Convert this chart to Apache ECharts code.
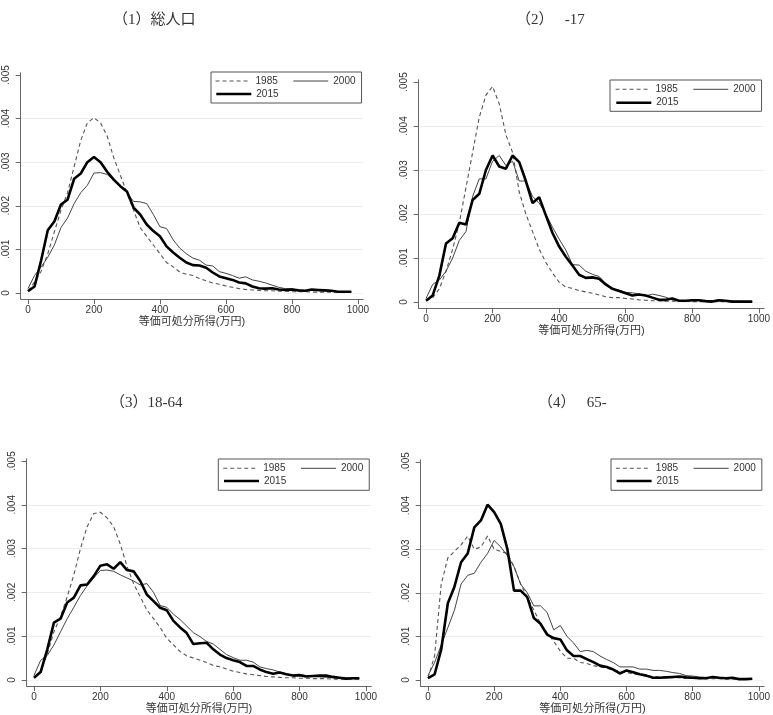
<!DOCTYPE html>
<html>
<head>
<meta charset="utf-8">
<script src="https://cdn.jsdelivr.net/npm/echarts@6/dist/echarts.min.js"></script>
<style>
  html, body { margin: 0; padding: 0; background: #fff; }
  #chart { width: 773px; height: 715px; }
</style>
</head>
<body>
<div id="chart"></div>
<script>
// income bins (万円)
const incomeGrid = [
  0, 20, 40, 60, 80, 100, 120, 140, 160, 180,
  200, 220, 240, 260, 280, 300, 320, 340, 360, 380,
  400, 420, 440, 460, 480, 500, 520, 540, 560, 580,
  600, 620, 640, 660, 680, 700, 720, 740, 760, 780,
  800, 820, 840, 860, 880, 900, 920, 940, 960, 980
];
const xTicks = [0, 200, 400, 600, 800, 1000];
const yTicks = [0, 0.001, 0.002, 0.003, 0.004, 0.005];
const years = ["1985", "2000", "2015"];
const panelTitles = ["（1）総人口", "（2）　 -17", "（3）18-64", "（4）　 65-"];
const axisName = "等価可処分所得(万円)";

// (1) total
const total1985 = [
  0.00005, 0.00025, 0.0005, 0.0009, 0.0014, 0.0019, 0.0023, 0.0029, 0.0035, 0.0039,
  0.00402, 0.0039, 0.0036, 0.0031, 0.0027, 0.0023, 0.0019, 0.0015, 0.0013, 0.0011,
  0.0009, 0.0007, 0.0006, 0.00048, 0.00043, 0.0004, 0.00033, 0.00028, 0.00023, 0.0002,
  0.00016, 0.00013, 0.0001, 0.00008, 0.00007, 0.00006, 0.00005, 0.00005, 0.00004, 0.00004,
  0.00003, 0.00003, 0.00003, 0.00002, 0.00002, 0.00002, 0.00002, 0.00002, 0.00002, 0.00002
];
const total2000 = [
  0.0001, 0.0004, 0.0006, 0.00082, 0.0011, 0.0015, 0.00172, 0.00205, 0.0023, 0.00247,
  0.00275, 0.00276, 0.00272, 0.00258, 0.00243, 0.0023, 0.0021, 0.00209, 0.00205, 0.0018,
  0.00152, 0.00148, 0.00122, 0.00103, 0.0009, 0.0008, 0.00075, 0.00064, 0.00062, 0.00049,
  0.00045, 0.0004, 0.00034, 0.00037, 0.0003, 0.00027, 0.00023, 0.00018, 0.00013, 0.0001,
  0.0001, 0.00006, 0.00005, 0.00006, 0.00005, 0.00005, 0.00004, 0.00003, 0.00003, 0.00003
];
const total2015 = [
  0.00004, 0.00015, 0.00075, 0.00144, 0.00164, 0.00203, 0.00214, 0.00262, 0.00274, 0.003,
  0.00312, 0.003, 0.00278, 0.0026, 0.00245, 0.00233, 0.00196, 0.0018, 0.00157, 0.00142,
  0.0013, 0.00107, 0.00093, 0.00081, 0.0007, 0.00064, 0.00063, 0.00058, 0.00047, 0.00038,
  0.00034, 0.0003, 0.00024, 0.00022, 0.00015, 0.00011, 0.0001, 0.00011, 0.00008, 0.00007,
  0.00008, 0.00006, 0.00005, 0.00008, 0.00007, 0.00006, 0.00005, 0.00003, 0.00003, 0.00003
];

// (2) -17
const child1985 = [
  0.00004, 0.0001, 0.0003, 0.0007, 0.0012, 0.0018, 0.0026, 0.0034, 0.0042, 0.0047,
  0.0049, 0.0045, 0.0038, 0.0034, 0.0025, 0.002, 0.0016, 0.0012, 0.0009, 0.00066,
  0.00045, 0.00034, 0.00031, 0.00026, 0.00023, 0.0002, 0.00016, 0.00012, 0.0001, 0.0001,
  0.00008, 0.00007, 0.00005, 0.00004, 0.00003, 0.00003, 0.00002, 0.00002, 0.00002, 0.00002,
  0.00001, 0.00001, 0.00001, 0.00001, 0.00001, 0.00001, 0.00001, 0.00001, 0.00001, 0.00001
];
const child2000 = [
  0.00008, 0.0004, 0.0005, 0.0007, 0.001, 0.0014, 0.0016, 0.0024, 0.0028, 0.0028,
  0.0032, 0.00333, 0.0031, 0.0032, 0.00275, 0.00275, 0.0024, 0.00225, 0.002, 0.0017,
  0.00143, 0.00118, 0.00085, 0.00084, 0.0007, 0.00063, 0.00058, 0.00042, 0.0003, 0.00027,
  0.00022, 0.00021, 0.00018, 0.00014, 0.00018, 0.00015, 0.00011, 0.00005, 0.00003, 0.00003,
  0.00003, 0.00004, 0.00002, 0.00003, 0.00005, 0.00003, 0.00002, 0.00002, 0.00001, 0.00001
];
const child2015 = [
  0.00003, 0.00015, 0.0006, 0.00133, 0.00145, 0.0018, 0.00176, 0.00232, 0.00246, 0.003,
  0.00333, 0.00308, 0.00303, 0.00333, 0.00318, 0.00275, 0.00225, 0.00238, 0.00197, 0.00157,
  0.00126, 0.00103, 0.00083, 0.00062, 0.00055, 0.00056, 0.00053, 0.0004, 0.0003, 0.00025,
  0.0002, 0.00015, 0.00017, 0.00015, 0.0001, 0.00005, 0.00005, 0.00008, 0.00003, 0.00003,
  0.00004, 0.00004, 0.00002, 0.00001, 0.00004, 0.00003, 0.00001, 0.00001, 0.00001, 0.00001
];

// (3) 18-64
const work1985 = [
  0.00005, 0.0002, 0.0006, 0.0011, 0.00145, 0.0019, 0.0024, 0.003, 0.0035, 0.0038,
  0.00383, 0.0037, 0.0035, 0.0031, 0.0026, 0.0022, 0.0019, 0.0016, 0.0014, 0.0012,
  0.00095, 0.0008, 0.00065, 0.00055, 0.0005, 0.00045, 0.0004, 0.00033, 0.0003, 0.00025,
  0.0002, 0.00017, 0.00014, 0.00012, 0.0001, 0.00008, 0.00007, 0.00006, 0.00005, 0.00005,
  0.00004, 0.00004, 0.00003, 0.00003, 0.00003, 0.00002, 0.00002, 0.00002, 0.00002, 0.00002
];
const work2000 = [
  0.0001, 0.00045, 0.00056, 0.0008, 0.0011, 0.0014, 0.00166, 0.00193, 0.00215, 0.00233,
  0.0025, 0.00251, 0.00248, 0.0024, 0.00233, 0.00226, 0.00217, 0.0022, 0.002, 0.0017,
  0.00166, 0.0015, 0.00138, 0.00123, 0.00108, 0.00099, 0.00088, 0.00082, 0.0007, 0.00058,
  0.00051, 0.00045, 0.00045, 0.00041, 0.0003, 0.00026, 0.00023, 0.00018, 0.00014, 0.00011,
  0.00013, 0.0001, 0.00008, 0.00007, 0.00006, 0.00005, 0.00004, 0.00004, 0.00003, 0.00003
];
const work2015 = [
  0.00005, 0.00018, 0.0007, 0.00131, 0.0014, 0.00177, 0.00188, 0.00216, 0.00218, 0.00237,
  0.00261, 0.00264, 0.00254, 0.00269, 0.00251, 0.00248, 0.00226, 0.00195, 0.0018, 0.00165,
  0.00159, 0.00135, 0.0012, 0.00107, 0.00082, 0.00084, 0.00085, 0.0007, 0.00058, 0.0005,
  0.00045, 0.00041, 0.00032, 0.00032, 0.00024, 0.00018, 0.00014, 0.00017, 0.00013, 0.0001,
  0.00011, 0.00008, 0.00009, 0.0001, 0.0001, 0.00007, 0.00005, 0.00003, 0.00004, 0.00004
];

// (4) 65-
const elder1985 = [
  0.00005, 0.00055, 0.0022, 0.0028, 0.00295, 0.0031, 0.0033, 0.003, 0.00305, 0.0033,
  0.003, 0.00295, 0.0029, 0.0026, 0.0022, 0.0019, 0.0016, 0.0013, 0.00108, 0.00089,
  0.00066, 0.0005, 0.0005, 0.0004, 0.00038, 0.00033, 0.0003, 0.00027, 0.00023, 0.0002,
  0.00017, 0.00014, 0.00012, 0.0001, 0.00008, 0.00007, 0.00006, 0.00005, 0.00005, 0.00004,
  0.00004, 0.00003, 0.00003, 0.00003, 0.00003, 0.00002, 0.00002, 0.00002, 0.00002, 0.00002
];
const elder2000 = [
  0.0001, 0.0004, 0.0008, 0.0012, 0.0016, 0.0022, 0.0024, 0.00245, 0.0027, 0.0029,
  0.0032, 0.00305, 0.00285, 0.0026, 0.0022, 0.002, 0.0017, 0.0017, 0.00155, 0.00115,
  0.00125, 0.001, 0.00085, 0.00065, 0.00068, 0.00065, 0.00055, 0.00047, 0.0004, 0.0003,
  0.0003, 0.0003, 0.00025, 0.00025, 0.00022, 0.00022, 0.0002, 0.00017, 0.00015, 0.0001,
  0.00009, 0.00007, 0.00006, 0.00005, 0.00005, 0.00005, 0.00004, 0.00003, 0.00003, 0.00002
];
const elder2015 = [
  0.00004, 0.00013, 0.0007, 0.00176, 0.00214, 0.0027, 0.0029, 0.0035, 0.00366, 0.00402,
  0.00385, 0.00358, 0.003, 0.00205, 0.00205, 0.0019, 0.00142, 0.00129, 0.00104, 0.00096,
  0.00093, 0.00068, 0.00055, 0.00055, 0.00048, 0.00041, 0.00033, 0.0003, 0.00024, 0.00015,
  0.00022, 0.00018, 0.00013, 0.0001, 0.00005, 0.00005, 0.00006, 0.00007, 0.00008, 0.00006,
  0.00005, 0.00004, 0.00004, 0.00007, 0.00005, 0.00004, 0.00005, 0.00002, 0.00002, 0.00003
];

const panelData = [
  [total1985, total2000, total2015],
  [child1985, child2000, child2015],
  [work1985, work2000, work2015],
  [elder1985, elder2000, elder2015],
];

// layout (pixels)
const grids = [
  { left: 20.7, top: 72.8, width: 342.5, height: 226.3 },
  { left: 418.7, top: 79.8, width: 345.7, height: 228.4 },
  { left: 26.7, top: 458.8, width: 344.6, height: 228.4 },
  { left: 420.7, top: 459.8, width: 343.6, height: 227.3 },
];
const titlePos = [[113, 13], [516, 13], [110, 396], [538, 396]];
// legend box left/top, row2 top
const legendPos = [
  { left: 211, top: 72, padL: 4, padT: 3, row2: 88 },
  { left: 610, top: 80, padL: 5, padT: 3.3, row2: 96.7 },
  { left: 218.3, top: 459, padL: 4.4, padT: 3.3, row2: 475 },
  { left: 611, top: 459, padL: 4.3, padT: 3.3, row2: 475 },
];

const sansFont = "'Liberation Sans', 'Noto Sans CJK JP', sans-serif";
const serifFont = "'Liberation Serif', 'Noto Sans CJK JP', serif";
const axisColor = "#666";
const lineStyles = [
  { color: "#555", width: 1.1, type: [4, 3] },
  { color: "#444", width: 1 },
  { color: "#000", width: 2.6 },
];

const el = document.getElementById("chart");
const chart = echarts.init(el);

const title = [];
const legend = [];
const xAxis = [];
const yAxis = [];
const series = [];

panelTitles.forEach((t, i) => {
  title.push({
    text: t,
    left: titlePos[i][0],
    top: titlePos[i][1],
    padding: 0,
    textStyle: { fontFamily: serifFont, fontSize: 15, fontWeight: "normal", color: "#333" },
  });

  const lp = legendPos[i];
  const legendCommon = {
    itemWidth: 35,
    itemHeight: 10,
    itemGap: 15,
    orient: "horizontal",
    itemStyle: { opacity: 0, borderWidth: 0 },
    lineStyle: { width: "inherit" },
    textStyle: { fontFamily: sansFont, fontSize: 10, color: "#333", lineHeight: 12 },
  };
  legend.push({
    ...legendCommon,
    left: lp.left,
    top: lp.top,
    data: ["1985", "2000"],
    borderColor: "#555",
    borderWidth: 1,
    padding: [lp.padT, 6, 16, lp.padL],
  });
  legend.push({
    ...legendCommon,
    left: lp.left + lp.padL,
    top: lp.row2,
    data: ["2015"],
    padding: 0,
  });

  xAxis.push({
    type: "value",
    gridIndex: i,
    min: -22,
    max: 1016,
    name: axisName,
    nameLocation: "middle",
    nameGap: 14,
    nameTextStyle: { fontFamily: sansFont, fontSize: 11, color: "#333" },
    axisLine: { onZero: false, lineStyle: { color: axisColor } },
    axisTick: { customValues: xTicks, length: 5, lineStyle: { color: axisColor } },
    axisLabel: {
      customValues: xTicks,
      margin: 6,
      fontFamily: sansFont,
      fontSize: 10,
      color: "#333",
      formatter: (v) => String(v),
    },
    splitLine: { show: false },
  });
  yAxis.push({
    type: "value",
    gridIndex: i,
    min: -0.00014,
    max: 0.00505,
    axisLine: { show: true, onZero: false, lineStyle: { color: axisColor } },
    axisTick: { show: true, customValues: yTicks, length: 5, lineStyle: { color: axisColor } },
    axisLabel: {
      customValues: yTicks,
      rotate: 90,
      margin: 9,
      fontFamily: sansFont,
      fontSize: 10,
      color: "#333",
      formatter: (v) => (v === 0 ? "0" : v.toFixed(3).replace(/^0/, "")),
    },
    splitLine: {
      show: true,
      lineStyle: { color: ["#f4f4f4", "#ececec", "#ececec", "#ececec", "#ececec", "#ffffff"], width: 1 },
    },
  });

  years.forEach((y, k) => {
    const vals = panelData[i][k];
    series.push({
      type: "line",
      name: y,
      xAxisIndex: i,
      yAxisIndex: i,
      symbol: "none",
      silent: true,
      z: 2 + k,
      itemStyle: { color: lineStyles[k].color },
      lineStyle: lineStyles[k],
      data: incomeGrid.map((x, j) => [x, vals[j]]),
    });
  });
});

chart.setOption({
  backgroundColor: "#fff",
  animation: false,
  title,
  legend,
  grid: grids.map((g) => ({ ...g, containLabel: false })),
  xAxis,
  yAxis,
  series,
});
</script>
</body>
</html>
